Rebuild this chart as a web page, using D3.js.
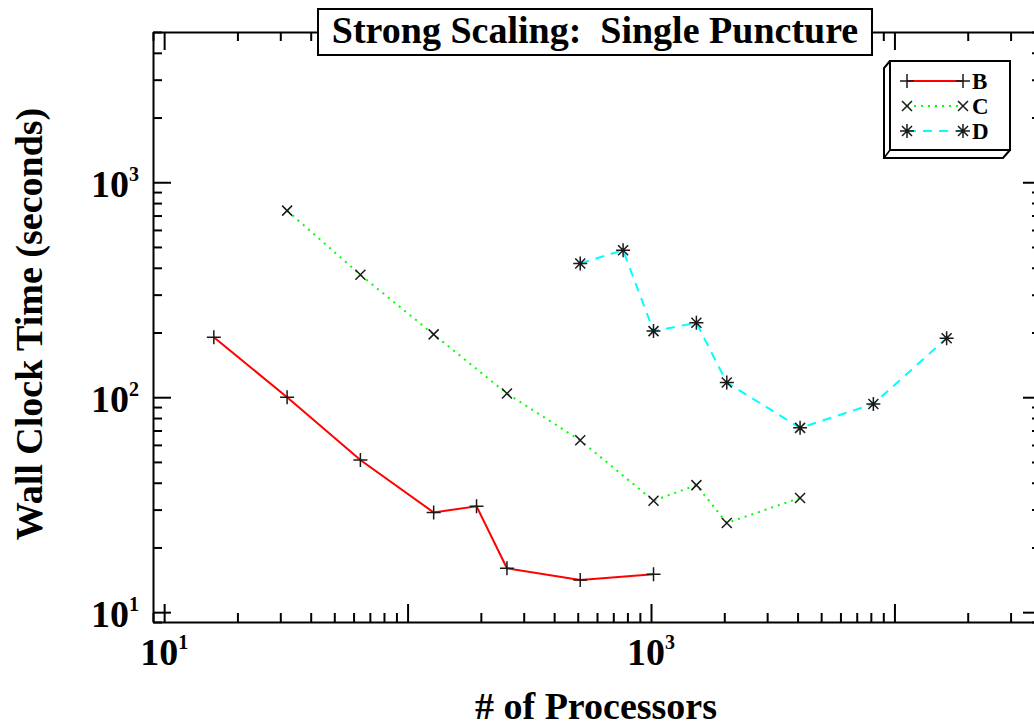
<!DOCTYPE html>
<html>
<head>
<meta charset="utf-8">
<script src="https://cdn.jsdelivr.net/npm/d3@7"></script>
<style>
  body { margin: 0; background: #fff; }
  svg { display: block; font-family: "Liberation Serif", "Times New Roman", serif; font-weight: bold; }
</style>
</head>
<body>
<svg id="chart" width="1034" height="727"></svg>
<script>
"use strict";

// processor counts and wall clock times
var procsB = [16, 32, 64, 128, 192, 256, 512, 1024];
var timeB  = [190, 100, 51, 29.1, 31.1, 16.0, 14.1, 15.0];
var procsC = [32, 64, 128, 256, 512, 1024, 1536, 2048, 4096];
var timeC  = [738, 371, 196, 104, 63, 33, 39, 26, 34];
var procsD = [512, 768, 1024, 1536, 2048, 4096, 8192, 16384];
var timeD  = [419, 483, 203, 222, 117, 72, 93, 188];

var seriesNames = ["B", "C", "D"];
var xTickLabels = [10, 1000];
var yTickLabels = [10, 100, 1000];

var titleText = "Strong Scaling:  Single Puncture";
var xTitle = "# of Processors";
var yTitle = "Wall Clock Time (seconds)";

var LEFT = 153, RIGHT = 1041, TOP = 32, BOTTOM = 622;
var MAJOR = 18, MINOR = 9;

var svg = d3.select("#chart");

var x = d3.scaleLog().domain([9, 40000]).range([LEFT, RIGHT]);
var y = d3.scaleLog().domain([9, 5000]).range([BOTTOM, TOP]);

function logTicks(scale) {
  var d = scale.domain(), out = [];
  for (var e = Math.floor(Math.log10(d[0])); e <= Math.ceil(Math.log10(d[1])); e++) {
    for (var m = 1; m <= 9; m++) {
      var v = m * Math.pow(10, e);
      if (v >= d[0] && v <= d[1]) out.push(v);
    }
  }
  return out;
}
function isMajor(v) { return Math.abs(Math.log10(v) - Math.round(Math.log10(v))) < 1e-9; }

var xTicks = logTicks(x), yTicks = logTicks(y);

function styleAxis(g, horizontal, sign) {
  g.select(".domain").attr("stroke", "#000").attr("stroke-width", 2);
  g.selectAll(".tick line")
    .attr("stroke", "#000").attr("stroke-width", 2)
    .each(function (d) {
      var len = (isMajor(d) ? MAJOR : MINOR) * sign;
      d3.select(this).attr(horizontal ? "y2" : "x2", len);
    });
}

svg.append("g").attr("transform", "translate(0," + BOTTOM + ")")
  .call(d3.axisBottom(x).tickValues(xTicks).tickFormat("").tickSizeOuter(0))
  .call(styleAxis, true, -1);
svg.append("g").attr("transform", "translate(0," + TOP + ")")
  .call(d3.axisTop(x).tickValues(xTicks).tickFormat("").tickSizeOuter(0))
  .call(styleAxis, true, 1);
svg.append("g").attr("transform", "translate(" + LEFT + ",0)")
  .call(d3.axisLeft(y).tickValues(yTicks).tickFormat("").tickSizeOuter(0))
  .call(styleAxis, false, 1);
svg.append("g").attr("transform", "translate(" + RIGHT + ",0)")
  .call(d3.axisRight(y).tickValues(yTicks).tickFormat("").tickSizeOuter(0))
  .call(styleAxis, false, -1);

// tick labels 10^n
function powerLabel(sel) {
  sel.each(function (v) {
    var t = d3.select(this);
    t.append("tspan").text("10");
    t.append("tspan").attr("dy", -16).attr("font-size", 20).text(Math.round(Math.log10(v)));
  });
}
svg.append("g").selectAll("text").data(xTickLabels).enter().append("text")
  .attr("x", function (d) { return x(d); })
  .attr("y", 665)
  .attr("text-anchor", "middle")
  .attr("font-size", 38)
  .call(powerLabel);
svg.append("g").selectAll("text").data(yTickLabels).enter().append("text")
  .attr("x", 139)
  .attr("y", function (d) { return y(d) + 15; })
  .attr("text-anchor", "end")
  .attr("font-size", 38)
  .call(powerLabel);

// axis titles
svg.append("text")
  .attr("x", (LEFT + RIGHT) / 2 - 1).attr("y", 719)
  .attr("text-anchor", "middle").attr("font-size", 38)
  .text(xTitle);
svg.append("text")
  .attr("transform", "translate(42," + 324 + ") rotate(-90)")
  .attr("text-anchor", "middle").attr("font-size", 38)
  .text(yTitle);

// series
var series = [
  { procs: procsB, time: timeB, color: "#ff0000", dash: null, marker: "plus" },
  { procs: procsC, time: timeC, color: "#00ff00", dash: "2,5", marker: "cross" },
  { procs: procsD, time: timeD, color: "#00ffff", dash: "9,7", marker: "star" }
];
var markerPaths = {
  plus: "M-7,0H7M0,-7V7",
  cross: "M-5,-5L5,5M-5,5L5,-5",
  star: "M0,-7V7M-7,0H7M-5,-5L5,5M-5,5L5,-5"
};

var lineGen = d3.line()
  .x(function (d) { return x(d[0]); })
  .y(function (d) { return y(d[1]); });

series.forEach(function (s) {
  var pts = d3.zip(s.procs, s.time);
  svg.append("path")
    .datum(pts)
    .attr("d", lineGen)
    .attr("fill", "none")
    .attr("stroke", s.color)
    .attr("stroke-width", 2)
    .attr("stroke-dasharray", s.dash);
  svg.append("g").selectAll("path").data(pts).enter().append("path")
    .attr("transform", function (d) { return "translate(" + x(d[0]) + "," + y(d[1]) + ")"; })
    .attr("d", markerPaths[s.marker])
    .attr("fill", "none")
    .attr("stroke", "#1a1a1a")
    .attr("stroke-width", 1.5);
});

// title box
svg.append("rect")
  .attr("x", 318).attr("y", 9).attr("width", 554).attr("height", 46)
  .attr("fill", "#fff").attr("stroke", "#000").attr("stroke-width", 2);
svg.append("text")
  .attr("x", 595).attr("y", 43)
  .attr("text-anchor", "middle").attr("font-size", 38)
  .style("white-space", "pre")
  .text(titleText);

// legend with slab edge
var lg = svg.append("g");
lg.append("path")
  .attr("d", "M890,61L884,68L884,158L1003,158L1010,150")
  .attr("fill", "#fff").attr("stroke", "#000").attr("stroke-width", 2);
lg.append("path").attr("d", "M884,158L890,150").attr("stroke", "#000").attr("stroke-width", 1.5);
lg.append("rect")
  .attr("x", 890).attr("y", 61).attr("width", 120).attr("height", 89)
  .attr("fill", "#fff").attr("stroke", "#000").attr("stroke-width", 2);

var rows = lg.selectAll("g.row").data(series).enter().append("g")
  .attr("class", "row")
  .attr("transform", function (d, i) { return "translate(0," + (81 + i * 25) + ")"; });
rows.append("line")
  .attr("x1", 907).attr("x2", 963)
  .attr("stroke", function (d) { return d.color; })
  .attr("stroke-width", 2)
  .attr("stroke-dasharray", function (d) { return d.dash; });
[907, 963].forEach(function (mx) {
  rows.append("path")
    .attr("transform", "translate(" + mx + ",0)")
    .attr("d", function (d) { return markerPaths[d.marker]; })
    .attr("fill", "none").attr("stroke", "#1a1a1a").attr("stroke-width", 1.5);
});
rows.append("text")
  .attr("x", 972).attr("y", 8)
  .attr("font-size", 23)
  .text(function (d, i) { return seriesNames[i]; });
</script>
</body>
</html>
